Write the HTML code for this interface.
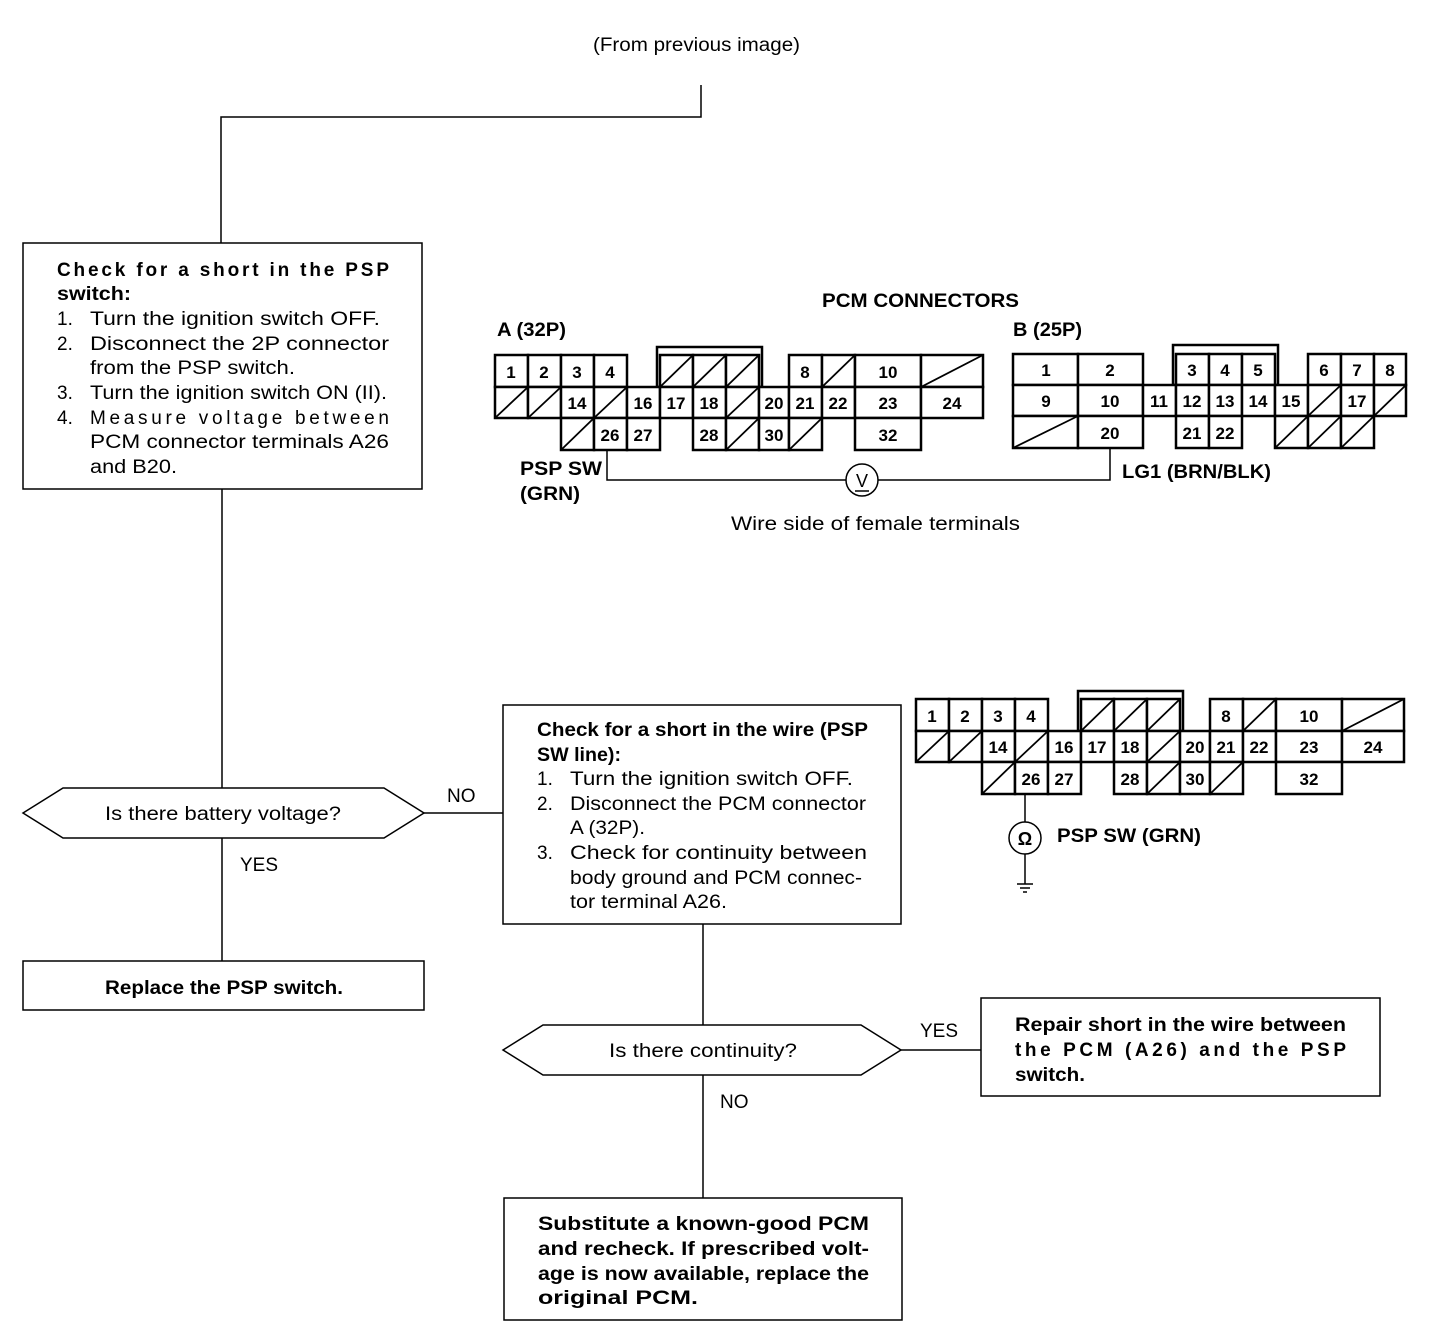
<!DOCTYPE html>
<html><head><meta charset="utf-8"><style>
html,body{margin:0;padding:0;background:#fff;}
svg{display:block;}
text{font-family:"Liberation Sans",Arial,sans-serif;fill:#000;}
.t{font-size:19px;}
.b{font-size:19px;font-weight:bold;}
.c{font-size:17px;font-weight:bold;text-anchor:middle;}
.cell{fill:#fff;stroke:#000;stroke-width:2.5;}
.sl{stroke:#000;stroke-width:1.8;}
.ln{stroke:#000;stroke-width:1.5;fill:none;}
.bx{fill:#fff;stroke:#000;stroke-width:1.5;}
</style></head><body>
<svg width="1456" height="1344" viewBox="0 0 1456 1344" xmlns="http://www.w3.org/2000/svg">
<text class="t" x="593" y="51" textLength="207" lengthAdjust="spacingAndGlyphs">(From previous image)</text>
<path class="ln" d="M701 85 V117 H221 V243"/>

<!-- Box 1 -->
<rect class="bx" x="23" y="243" width="399" height="246"/>
<text class="b" x="57" y="276" textLength="332" lengthAdjust="spacing">Check for a short in the PSP</text>
<text class="b" x="57" y="300" textLength="74" lengthAdjust="spacingAndGlyphs">switch:</text>
<text class="t" x="57" y="325">1.</text><text class="t" x="90" y="325" textLength="290" lengthAdjust="spacingAndGlyphs">Turn the ignition switch OFF.</text>
<text class="t" x="57" y="350">2.</text><text class="t" x="90" y="350" textLength="299" lengthAdjust="spacingAndGlyphs">Disconnect the 2P connector</text>
<text class="t" x="90" y="374" textLength="205" lengthAdjust="spacingAndGlyphs">from the PSP switch.</text>
<text class="t" x="57" y="399">3.</text><text class="t" x="90" y="399" textLength="297" lengthAdjust="spacingAndGlyphs">Turn the ignition switch ON (II).</text>
<text class="t" x="57" y="424">4.</text><text class="t" x="90" y="424" textLength="299" lengthAdjust="spacing">Measure voltage between</text>
<text class="t" x="90" y="448" textLength="299" lengthAdjust="spacingAndGlyphs">PCM connector terminals A26</text>
<text class="t" x="90" y="473" textLength="87" lengthAdjust="spacingAndGlyphs">and B20.</text>

<line class="ln" x1="222" y1="489" x2="222" y2="788"/>
<polygon class="bx" points="23,813 63,788 384,788 424,813 384,838 63,838"/>
<text class="t" x="105" y="820" textLength="236" lengthAdjust="spacingAndGlyphs">Is there battery voltage?</text>
<line class="ln" x1="424" y1="813" x2="503" y2="813"/>
<text class="t" x="447" y="802">NO</text>
<line class="ln" x1="222" y1="838" x2="222" y2="961"/>
<text class="t" x="240" y="871">YES</text>
<rect class="bx" x="23" y="961" width="401" height="49"/>
<text class="b" x="105" y="994" textLength="238" lengthAdjust="spacingAndGlyphs">Replace the PSP switch.</text>

<!-- Box 2 -->
<rect class="bx" x="503" y="705" width="398" height="219"/>
<text class="b" x="537" y="736" textLength="331" lengthAdjust="spacingAndGlyphs">Check for a short in the wire (PSP</text>
<text class="b" x="537" y="761" textLength="84" lengthAdjust="spacingAndGlyphs">SW line):</text>
<text class="t" x="537" y="785">1.</text><text class="t" x="570" y="785" textLength="283" lengthAdjust="spacingAndGlyphs">Turn the ignition switch OFF.</text>
<text class="t" x="537" y="810">2.</text><text class="t" x="570" y="810" textLength="296" lengthAdjust="spacingAndGlyphs">Disconnect the PCM connector</text>
<text class="t" x="570" y="834" textLength="75" lengthAdjust="spacingAndGlyphs">A (32P).</text>
<text class="t" x="537" y="859">3.</text><text class="t" x="570" y="859" textLength="297" lengthAdjust="spacingAndGlyphs">Check for continuity between</text>
<text class="t" x="570" y="884" textLength="292" lengthAdjust="spacingAndGlyphs">body ground and PCM connec-</text>
<text class="t" x="570" y="908" textLength="157" lengthAdjust="spacingAndGlyphs">tor terminal A26.</text>

<line class="ln" x1="703" y1="924" x2="703" y2="1025"/>
<polygon class="bx" points="503,1050 543,1025 861,1025 901,1050 861,1075 543,1075"/>
<text class="t" x="609" y="1057" textLength="188" lengthAdjust="spacingAndGlyphs">Is there continuity?</text>
<line class="ln" x1="901" y1="1050" x2="981" y2="1050"/>
<text class="t" x="920" y="1037">YES</text>
<rect class="bx" x="981" y="998" width="399" height="98"/>
<text class="b" x="1015" y="1031" textLength="331" lengthAdjust="spacingAndGlyphs">Repair short in the wire between</text>
<text class="b" x="1015" y="1056" textLength="331" lengthAdjust="spacing">the PCM (A26) and the PSP</text>
<text class="b" x="1015" y="1081" textLength="70" lengthAdjust="spacingAndGlyphs">switch.</text>
<line class="ln" x1="703" y1="1075" x2="703" y2="1198"/>
<text class="t" x="720" y="1108">NO</text>
<rect class="bx" x="504" y="1198" width="398" height="122"/>
<text class="b" x="538" y="1230" textLength="331" lengthAdjust="spacingAndGlyphs">Substitute a known-good PCM</text>
<text class="b" x="538" y="1255" textLength="331" lengthAdjust="spacingAndGlyphs">and recheck. If prescribed volt-</text>
<text class="b" x="538" y="1280" textLength="331" lengthAdjust="spacingAndGlyphs">age is now available, replace the</text>
<text class="b" x="538" y="1304" textLength="160" lengthAdjust="spacingAndGlyphs">original PCM.</text>

<!-- Labels -->
<text class="b" x="822" y="307" textLength="197" lengthAdjust="spacingAndGlyphs">PCM CONNECTORS</text>
<text class="b" x="497" y="336" textLength="69" lengthAdjust="spacingAndGlyphs">A (32P)</text>
<text class="b" x="1013" y="336" textLength="69" lengthAdjust="spacingAndGlyphs">B (25P)</text>
<text class="b" x="520" y="475" textLength="82" lengthAdjust="spacingAndGlyphs">PSP SW</text>
<text class="b" x="520" y="500" textLength="60" lengthAdjust="spacingAndGlyphs">(GRN)</text>
<text class="b" x="1122" y="478" textLength="149" lengthAdjust="spacingAndGlyphs">LG1 (BRN/BLK)</text>
<text class="t" x="731" y="530" textLength="289" lengthAdjust="spacingAndGlyphs">Wire side of female terminals</text>

<!-- connector A upper -->
<g>
<rect class="cell" x="657" y="347" width="105" height="40"/>
<rect class="cell" x="495" y="355" width="33" height="32"/><text class="c" x="511" y="378">1</text>
<rect class="cell" x="528" y="355" width="33" height="32"/><text class="c" x="544" y="378">2</text>
<rect class="cell" x="561" y="355" width="33" height="32"/><text class="c" x="577" y="378">3</text>
<rect class="cell" x="594" y="355" width="33" height="32"/><text class="c" x="610" y="378">4</text>
<rect class="cell" x="660" y="355" width="33" height="32"/><line class="sl" x1="660" y1="387" x2="693" y2="355"/>
<rect class="cell" x="693" y="355" width="33" height="32"/><line class="sl" x1="693" y1="387" x2="726" y2="355"/>
<rect class="cell" x="726" y="355" width="33" height="32"/><line class="sl" x1="726" y1="387" x2="759" y2="355"/>
<rect class="cell" x="789" y="355" width="33" height="32"/><text class="c" x="805" y="378">8</text>
<rect class="cell" x="822" y="355" width="33" height="32"/><line class="sl" x1="822" y1="387" x2="855" y2="355"/>
<rect class="cell" x="855" y="355" width="66" height="32"/><text class="c" x="888" y="378">10</text>
<rect class="cell" x="921" y="355" width="62" height="32"/><line class="sl" x1="921" y1="387" x2="983" y2="355"/>

<rect class="cell" x="495" y="387" width="33" height="31"/><line class="sl" x1="495" y1="418" x2="528" y2="387"/>
<rect class="cell" x="528" y="387" width="33" height="31"/><line class="sl" x1="528" y1="418" x2="561" y2="387"/>
<rect class="cell" x="561" y="387" width="33" height="31"/><text class="c" x="577" y="409">14</text>
<rect class="cell" x="594" y="387" width="33" height="31"/><line class="sl" x1="594" y1="418" x2="627" y2="387"/>
<rect class="cell" x="627" y="387" width="33" height="31"/><text class="c" x="643" y="409">16</text>
<rect class="cell" x="660" y="387" width="33" height="31"/><text class="c" x="676" y="409">17</text>
<rect class="cell" x="693" y="387" width="33" height="31"/><text class="c" x="709" y="409">18</text>
<rect class="cell" x="726" y="387" width="33" height="31"/><line class="sl" x1="726" y1="418" x2="759" y2="387"/>
<rect class="cell" x="759" y="387" width="30" height="31"/><text class="c" x="774" y="409">20</text>
<rect class="cell" x="789" y="387" width="33" height="31"/><text class="c" x="805" y="409">21</text>
<rect class="cell" x="822" y="387" width="33" height="31"/><text class="c" x="838" y="409">22</text>
<rect class="cell" x="855" y="387" width="66" height="31"/><text class="c" x="888" y="409">23</text>
<rect class="cell" x="921" y="387" width="62" height="31"/><text class="c" x="952" y="409">24</text>

<rect class="cell" x="561" y="418" width="33" height="32"/><line class="sl" x1="561" y1="450" x2="594" y2="418"/>
<rect class="cell" x="594" y="418" width="33" height="32"/><text class="c" x="610" y="441">26</text>
<rect class="cell" x="627" y="418" width="33" height="32"/><text class="c" x="643" y="441">27</text>
<rect class="cell" x="693" y="418" width="33" height="32"/><text class="c" x="709" y="441">28</text>
<rect class="cell" x="726" y="418" width="33" height="32"/><line class="sl" x1="726" y1="450" x2="759" y2="418"/>
<rect class="cell" x="759" y="418" width="30" height="32"/><text class="c" x="774" y="441">30</text>
<rect class="cell" x="789" y="418" width="33" height="32"/><line class="sl" x1="789" y1="450" x2="822" y2="418"/>
<rect class="cell" x="855" y="418" width="66" height="32"/><text class="c" x="888" y="441">32</text>
</g>

<!-- connector B -->
<rect class="cell" x="1173" y="345" width="105" height="40"/>
<rect class="cell" x="1013" y="354" width="65" height="31"/><text class="c" x="1046" y="376">1</text>
<rect class="cell" x="1078" y="354" width="65" height="31"/><text class="c" x="1110" y="376">2</text>
<rect class="cell" x="1176" y="354" width="33" height="31"/><text class="c" x="1192" y="376">3</text>
<rect class="cell" x="1209" y="354" width="33" height="31"/><text class="c" x="1225" y="376">4</text>
<rect class="cell" x="1242" y="354" width="33" height="31"/><text class="c" x="1258" y="376">5</text>
<rect class="cell" x="1308" y="354" width="33" height="31"/><text class="c" x="1324" y="376">6</text>
<rect class="cell" x="1341" y="354" width="33" height="31"/><text class="c" x="1357" y="376">7</text>
<rect class="cell" x="1374" y="354" width="32" height="31"/><text class="c" x="1390" y="376">8</text>

<rect class="cell" x="1013" y="385" width="65" height="31"/><text class="c" x="1046" y="407">9</text>
<rect class="cell" x="1078" y="385" width="65" height="31"/><text class="c" x="1110" y="407">10</text>
<rect class="cell" x="1143" y="385" width="33" height="31"/><text class="c" x="1159" y="407">11</text>
<rect class="cell" x="1176" y="385" width="33" height="31"/><text class="c" x="1192" y="407">12</text>
<rect class="cell" x="1209" y="385" width="33" height="31"/><text class="c" x="1225" y="407">13</text>
<rect class="cell" x="1242" y="385" width="33" height="31"/><text class="c" x="1258" y="407">14</text>
<rect class="cell" x="1275" y="385" width="33" height="31"/><text class="c" x="1291" y="407">15</text>
<rect class="cell" x="1308" y="385" width="33" height="31"/><line class="sl" x1="1308" y1="416" x2="1341" y2="385"/>
<rect class="cell" x="1341" y="385" width="33" height="31"/><text class="c" x="1357" y="407">17</text>
<rect class="cell" x="1374" y="385" width="32" height="31"/><line class="sl" x1="1374" y1="416" x2="1406" y2="385"/>

<rect class="cell" x="1013" y="416" width="65" height="32"/><line class="sl" x1="1013" y1="448" x2="1078" y2="416"/>
<rect class="cell" x="1078" y="416" width="65" height="32"/><text class="c" x="1110" y="439">20</text>
<rect class="cell" x="1176" y="416" width="33" height="32"/><text class="c" x="1192" y="439">21</text>
<rect class="cell" x="1209" y="416" width="33" height="32"/><text class="c" x="1225" y="439">22</text>
<rect class="cell" x="1275" y="416" width="33" height="32"/><line class="sl" x1="1275" y1="448" x2="1308" y2="416"/>
<rect class="cell" x="1308" y="416" width="33" height="32"/><line class="sl" x1="1308" y1="448" x2="1341" y2="416"/>
<rect class="cell" x="1341" y="416" width="33" height="32"/><line class="sl" x1="1341" y1="448" x2="1374" y2="416"/>

<!-- voltmeter wiring -->
<path class="ln" d="M607 450 V480 H846 M878 480 H1110 V448"/>
<circle class="ln" cx="862" cy="480" r="16"/>
<text x="862" y="487" text-anchor="middle" style="font-size:18px">V</text>
<line class="ln" x1="855" y1="491" x2="869" y2="491"/>

<!-- connector A lower -->
<g transform="translate(421,344)">
<rect class="cell" x="657" y="347" width="105" height="40"/>
<rect class="cell" x="495" y="355" width="33" height="32"/><text class="c" x="511" y="378">1</text>
<rect class="cell" x="528" y="355" width="33" height="32"/><text class="c" x="544" y="378">2</text>
<rect class="cell" x="561" y="355" width="33" height="32"/><text class="c" x="577" y="378">3</text>
<rect class="cell" x="594" y="355" width="33" height="32"/><text class="c" x="610" y="378">4</text>
<rect class="cell" x="660" y="355" width="33" height="32"/><line class="sl" x1="660" y1="387" x2="693" y2="355"/>
<rect class="cell" x="693" y="355" width="33" height="32"/><line class="sl" x1="693" y1="387" x2="726" y2="355"/>
<rect class="cell" x="726" y="355" width="33" height="32"/><line class="sl" x1="726" y1="387" x2="759" y2="355"/>
<rect class="cell" x="789" y="355" width="33" height="32"/><text class="c" x="805" y="378">8</text>
<rect class="cell" x="822" y="355" width="33" height="32"/><line class="sl" x1="822" y1="387" x2="855" y2="355"/>
<rect class="cell" x="855" y="355" width="66" height="32"/><text class="c" x="888" y="378">10</text>
<rect class="cell" x="921" y="355" width="62" height="32"/><line class="sl" x1="921" y1="387" x2="983" y2="355"/>
<rect class="cell" x="495" y="387" width="33" height="31"/><line class="sl" x1="495" y1="418" x2="528" y2="387"/>
<rect class="cell" x="528" y="387" width="33" height="31"/><line class="sl" x1="528" y1="418" x2="561" y2="387"/>
<rect class="cell" x="561" y="387" width="33" height="31"/><text class="c" x="577" y="409">14</text>
<rect class="cell" x="594" y="387" width="33" height="31"/><line class="sl" x1="594" y1="418" x2="627" y2="387"/>
<rect class="cell" x="627" y="387" width="33" height="31"/><text class="c" x="643" y="409">16</text>
<rect class="cell" x="660" y="387" width="33" height="31"/><text class="c" x="676" y="409">17</text>
<rect class="cell" x="693" y="387" width="33" height="31"/><text class="c" x="709" y="409">18</text>
<rect class="cell" x="726" y="387" width="33" height="31"/><line class="sl" x1="726" y1="418" x2="759" y2="387"/>
<rect class="cell" x="759" y="387" width="30" height="31"/><text class="c" x="774" y="409">20</text>
<rect class="cell" x="789" y="387" width="33" height="31"/><text class="c" x="805" y="409">21</text>
<rect class="cell" x="822" y="387" width="33" height="31"/><text class="c" x="838" y="409">22</text>
<rect class="cell" x="855" y="387" width="66" height="31"/><text class="c" x="888" y="409">23</text>
<rect class="cell" x="921" y="387" width="62" height="31"/><text class="c" x="952" y="409">24</text>
<rect class="cell" x="561" y="418" width="33" height="32"/><line class="sl" x1="561" y1="450" x2="594" y2="418"/>
<rect class="cell" x="594" y="418" width="33" height="32"/><text class="c" x="610" y="441">26</text>
<rect class="cell" x="627" y="418" width="33" height="32"/><text class="c" x="643" y="441">27</text>
<rect class="cell" x="693" y="418" width="33" height="32"/><text class="c" x="709" y="441">28</text>
<rect class="cell" x="726" y="418" width="33" height="32"/><line class="sl" x1="726" y1="450" x2="759" y2="418"/>
<rect class="cell" x="759" y="418" width="30" height="32"/><text class="c" x="774" y="441">30</text>
<rect class="cell" x="789" y="418" width="33" height="32"/><line class="sl" x1="789" y1="450" x2="822" y2="418"/>
<rect class="cell" x="855" y="418" width="66" height="32"/><text class="c" x="888" y="441">32</text>
</g>

<!-- ohmmeter -->
<path class="ln" d="M1025 794 V822 M1025 854 V884"/>
<circle class="ln" cx="1025" cy="838" r="16"/>
<text x="1025" y="845" text-anchor="middle" style="font-size:18px;font-weight:bold">Ω</text>
<path class="ln" d="M1017 884 H1033 M1020 888 H1030 M1023 892 H1027"/>
<text class="b" x="1057" y="842" textLength="144" lengthAdjust="spacingAndGlyphs">PSP SW (GRN)</text>
</svg>
</body></html>
